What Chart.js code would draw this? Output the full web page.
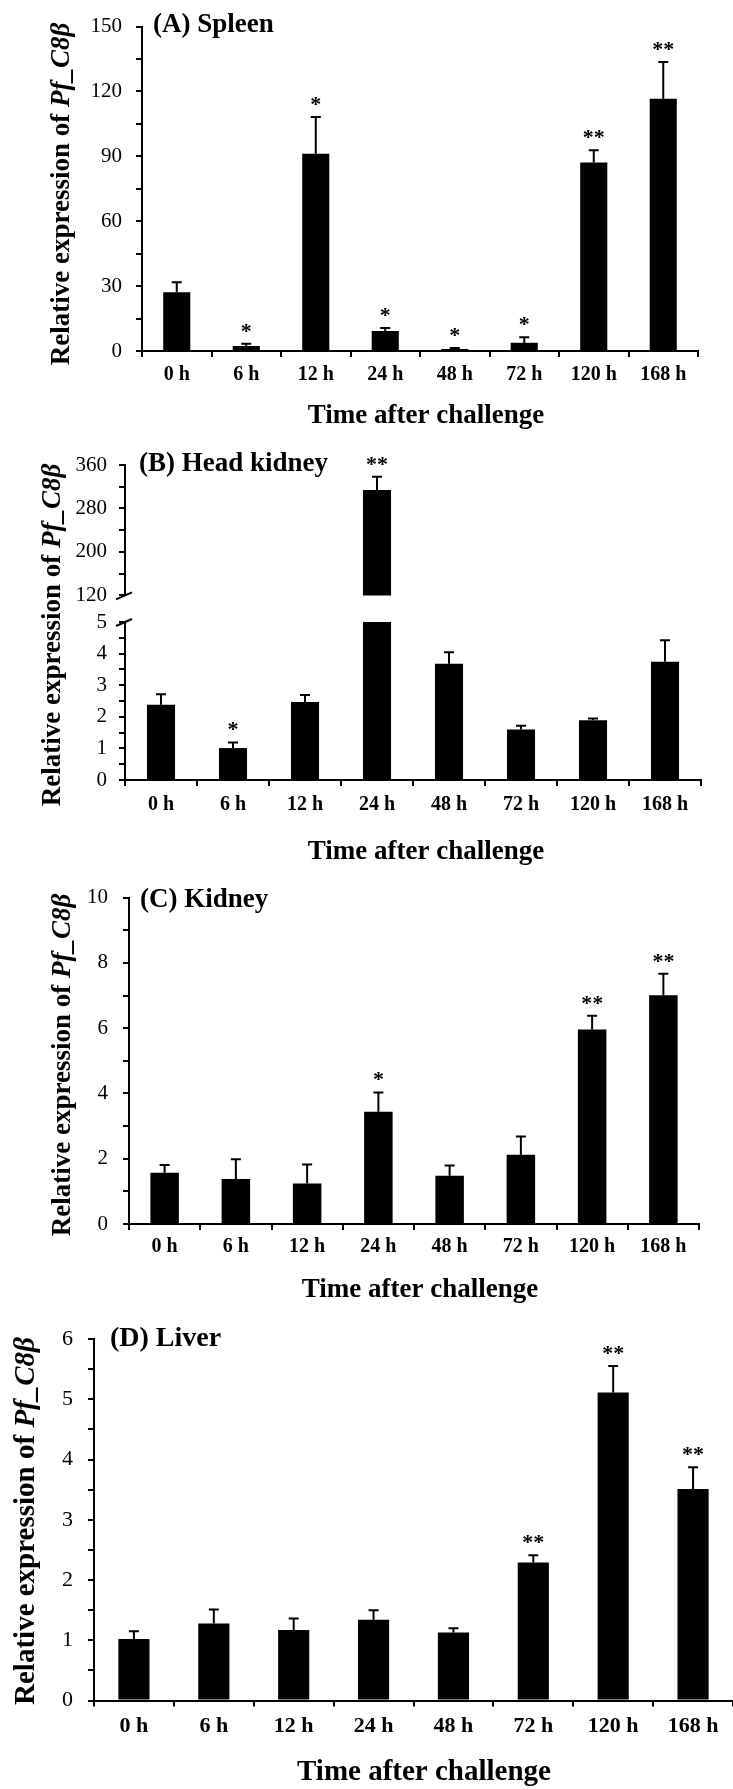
<!DOCTYPE html>
<html>
<head>
<meta charset="utf-8">
<title>Pf_C8β expression after challenge</title>
<script src="https://cdn.jsdelivr.net/npm/chart.js@4.4.1/dist/chart.umd.min.js"></script>
<style>
  html, body { margin: 0; padding: 0; background: #fff; }
  #figura { position: relative; width: 733px; height: 1789px; background: #fff; }
  #figura canvas { position: absolute; left: 0; }
</style>
</head>
<body>
<div id="figura">
  <canvas id="graficaBazo" width="733" height="440" style="top:0px"></canvas>
  <canvas id="graficaRinonCefalicoBajo" width="733" height="440" style="top:440px"></canvas>
  <canvas id="graficaRinonCefalicoAlto" width="733" height="180" style="top:440px"></canvas>
  <canvas id="graficaRinon" width="733" height="440" style="top:870px"></canvas>
  <canvas id="graficaHigado" width="733" height="479" style="top:1310px"></canvas>
</div>

<script>
// --- Datos ---
const tiempos = ['0 h', '6 h', '12 h', '24 h', '48 h', '72 h', '120 h', '168 h'];

// (A) Bazo
const bazoMedia = [27.2, 2.3, 91.2, 9.3, 0.9, 3.8, 87.2, 116.6];
const bazoDE    = [4.6, 1.1, 17.0, 1.3, 0.5, 2.6, 5.6, 17.0];
const bazoSig   = ['', '*', '*', '*', '*', '*', '**', '**'];
const bazoEtiquetasY = [0, 30, 60, 90, 120, 150];

// (B) Riñón cefálico (eje partido)
const cefalicoMedia = [2.38, 1.01, 2.47, 314.2, 3.68, 1.60, 1.89, 3.74];
const cefalicoDE    = [0.33, 0.18, 0.22, 24.1, 0.36, 0.12, 0.06, 0.68];
const cefalicoSig   = ['', '*', '', '**', '', '', '', ''];
const cefalicoEtiquetasAlto = [120, 200, 280, 360];
const cefalicoEtiquetasBajo = [0, 1, 2, 3, 4, 5];

// (C) Riñón
const rinonMedia = [1.57, 1.38, 1.24, 3.44, 1.48, 2.12, 5.96, 7.01];
const rinonDE    = [0.24, 0.60, 0.58, 0.59, 0.31, 0.56, 0.42, 0.66];
const rinonSig   = ['', '', '', '*', '', '', '**', '**'];
const rinonEtiquetasY = [0, 2, 4, 6, 8, 10];

// (D) Hígado
const higadoMedia = [1.02, 1.28, 1.17, 1.34, 1.13, 2.29, 5.11, 3.51];
const higadoDE    = [0.13, 0.23, 0.19, 0.16, 0.07, 0.12, 0.44, 0.36];
const higadoSig   = ['', '', '', '', '', '**', '**', '**'];
const higadoEtiquetasY = [0, 1, 2, 3, 4, 5, 6];

const SERIF = "'Liberation Serif', 'Times New Roman', serif";

// Barras de error (solo hacia arriba) y asteriscos de significancia
const barrasError = {
    id: 'barrasError',
    afterDatasetsDraw(chart) {
        const ctx = chart.ctx;
        const y = chart.scales.y;
        chart.data.datasets.forEach((ds, i) => {
            const meta = chart.getDatasetMeta(i);
            meta.data.forEach((bar, j) => {
                const media = ds.data[j];
                if (media == null || media > y.max) return;
                const tope = media + ds.de[j];
                if (tope > y.max) return;
                const yMedia = y.getPixelForValue(media);
                const yTope = y.getPixelForValue(tope);
                ctx.save();
                ctx.strokeStyle = '#000';
                ctx.lineWidth = 2;
                ctx.beginPath();
                ctx.moveTo(bar.x, yMedia);
                ctx.lineTo(bar.x, yTope);
                ctx.moveTo(bar.x - 5, yTope);
                ctx.lineTo(bar.x + 5, yTope);
                ctx.stroke();
                if (ds.sig[j]) {
                    ctx.fillStyle = '#000';
                    ctx.font = 'bold 22px ' + SERIF;
                    ctx.textAlign = 'center';
                    ctx.textBaseline = 'alphabetic';
                    ctx.fillText(ds.sig[j], bar.x, yTope - 6);
                }
                ctx.restore();
            });
        });
    }
};

// Textos del panel: letra, título del eje Y (con cursiva) y título del eje X
function textosPanel(cfg) {
    return {
        id: 'textosPanel',
        afterDraw(chart) {
            const ctx = chart.ctx;
            ctx.save();
            ctx.fillStyle = '#000';
            if (cfg.letra) {
                ctx.font = 'bold ' + cfg.letraTam + 'px ' + SERIF;
                ctx.textAlign = 'left';
                ctx.textBaseline = 'alphabetic';
                ctx.fillText(cfg.letra, cfg.letraX, cfg.letraY);
            }
            if (cfg.tituloX) {
                ctx.font = 'bold ' + cfg.tituloTam + 'px ' + SERIF;
                ctx.textAlign = 'center';
                ctx.textBaseline = 'middle';
                ctx.fillText(cfg.tituloX, cfg.tituloXx, cfg.tituloXy);
            }
            if (cfg.tituloY) {
                const partes = [
                    ['Relative expression of ', 'bold '],
                    ['Pf_C8β', 'italic bold ']
                ];
                let total = 0;
                partes.forEach(p => {
                    ctx.font = p[1] + cfg.tituloTam + 'px ' + SERIF;
                    total += ctx.measureText(p[0]).width;
                });
                ctx.translate(cfg.tituloYx, cfg.tituloYy);
                ctx.rotate(-Math.PI / 2);
                ctx.textAlign = 'left';
                ctx.textBaseline = 'middle';
                let x = -total / 2;
                partes.forEach(p => {
                    ctx.font = p[1] + cfg.tituloTam + 'px ' + SERIF;
                    ctx.fillText(p[0], x, 0);
                    x += ctx.measureText(p[0]).width;
                });
            }
            ctx.restore();
        }
    };
}

// Marcas de corte del eje Y partido
function marcaCorte(donde) {
    return {
        id: 'marcaCorte',
        afterDraw(chart) {
            const ctx = chart.ctx;
            const a = chart.chartArea;
            const y = donde === 'abajo' ? a.bottom : a.top;
            ctx.save();
            ctx.strokeStyle = '#000';
            ctx.lineWidth = 2;
            ctx.beginPath();
            ctx.moveTo(a.left - 9, y + 4);
            ctx.lineTo(a.left + 7, y - 3);
            ctx.stroke();
            ctx.restore();
        }
    };
}

function crearGrafica(id, p) {
    const ctx = document.getElementById(id);
    if (!ctx) return;
    return new Chart(ctx, {
        type: 'bar',
        data: {
            labels: tiempos,
            datasets: [{
                data: p.datos,
                de: p.de,
                sig: p.sig,
                backgroundColor: '#000',
                borderWidth: 0,
                barPercentage: p.anchoBarra,
                categoryPercentage: 1,
                clip: 0
            }]
        },
        options: {
            responsive: false,
            animation: false,
            layout: { padding: { top: p.arriba, right: p.derecha, bottom: p.abajo || 0, left: 0 } },
            plugins: {
                legend: { display: false },
                tooltip: { enabled: false }
            },
            scales: {
                x: {
                    display: p.mostrarX !== false,
                    border: { color: '#000', width: 2 },
                    grid: { offset: true, drawOnChartArea: false, tickLength: 6, color: '#000', lineWidth: 2 },
                    ticks: {
                        color: '#000', padding: p.padX, autoSkip: false, maxRotation: 0,
                        font: { family: SERIF, size: p.tamX, weight: 'bold' }
                    },
                    afterFit: s => { s.height = p.altoX; }
                },
                y: {
                    min: p.min, max: p.max,
                    border: { color: '#000', width: 2 },
                    grid: { drawOnChartArea: false, tickLength: 6, color: '#000', lineWidth: 2 },
                    ticks: {
                        stepSize: p.paso, autoSkip: false, color: '#000', padding: p.padY,
                        font: { family: SERIF, size: p.tamY },
                        callback: v => p.etiquetas.includes(v) ? v : ''
                    },
                    afterFit: s => { s.width = p.ejeX; }
                }
            }
        },
        plugins: [barrasError].concat(p.extras || [])
    });
}

document.addEventListener('DOMContentLoaded', function() {
    // (A) Spleen
    crearGrafica('graficaBazo', {
        datos: bazoMedia, de: bazoDE, sig: bazoSig, etiquetas: bazoEtiquetasY,
        min: 0, max: 150, paso: 15, anchoBarra: 0.39,
        arriba: 25, derecha: 35, altoX: 89, ejeX: 142,
        padX: 6, tamX: 20, padY: 14, tamY: 21,
        extras: [textosPanel({
            letra: '(A) Spleen', letraTam: 27, letraX: 153, letraY: 32,
            tituloTam: 27, tituloY: true, tituloYx: 62, tituloYy: 194,
            tituloX: 'Time after challenge', tituloXx: 426, tituloXy: 416
        })]
    });

    // (B) Head kidney, tramo bajo 0-5
    crearGrafica('graficaRinonCefalicoBajo', {
        datos: cefalicoMedia, de: cefalicoDE, sig: cefalicoSig, etiquetas: cefalicoEtiquetasBajo,
        min: 0, max: 5, paso: 0.5, anchoBarra: 0.39,
        arriba: 182, derecha: 32, altoX: 100, ejeX: 125,
        padX: 7, tamX: 20, padY: 12, tamY: 21,
        extras: [marcaCorte('arriba'), textosPanel({
            tituloTam: 27, tituloY: true, tituloYx: 53, tituloYy: 195,
            tituloX: 'Time after challenge', tituloXx: 426, tituloXy: 412
        })]
    });

    // (B) Head kidney, tramo alto 120-360
    crearGrafica('graficaRinonCefalicoAlto', {
        datos: cefalicoMedia.map(v => v >= 120 ? v : null), de: cefalicoDE, sig: cefalicoSig,
        etiquetas: cefalicoEtiquetasAlto,
        min: 120, max: 360, paso: 40, anchoBarra: 0.39,
        arriba: 25, derecha: 32, abajo: 22, altoX: 0, ejeX: 125, mostrarX: false,
        padX: 7, tamX: 20, padY: 12, tamY: 21,
        extras: [marcaCorte('abajo'), textosPanel({
            letra: '(B) Head kidney', letraTam: 27, letraX: 139, letraY: 31
        })]
    });

    // (C) Kidney
    crearGrafica('graficaRinon', {
        datos: rinonMedia, de: rinonDE, sig: rinonSig, etiquetas: rinonEtiquetasY,
        min: 0, max: 10, paso: 1, anchoBarra: 0.4,
        arriba: 27.5, derecha: 34, altoX: 86, ejeX: 129,
        padX: 5, tamX: 20, padY: 15, tamY: 21,
        extras: [textosPanel({
            letra: '(C) Kidney', letraTam: 27, letraX: 140, letraY: 37,
            tituloTam: 27, tituloY: true, tituloYx: 63, tituloYy: 195,
            tituloX: 'Time after challenge', tituloXx: 420, tituloXy: 420
        })]
    });

    // (D) Liver
    crearGrafica('graficaHigado', {
        datos: higadoMedia, de: higadoDE, sig: higadoSig, etiquetas: higadoEtiquetasY,
        min: 0, max: 6, paso: 0.5, anchoBarra: 0.39,
        arriba: 29, derecha: 0, altoX: 88.5, ejeX: 94,
        padX: 7, tamX: 22, padY: 15, tamY: 22,
        extras: [textosPanel({
            letra: '(D) Liver', letraTam: 28, letraX: 110, letraY: 36,
            tituloTam: 29, tituloY: true, tituloYx: 27, tituloYy: 211,
            tituloX: 'Time after challenge', tituloXx: 424, tituloXy: 463
        })]
    });
});
</script>
</body>
</html>
